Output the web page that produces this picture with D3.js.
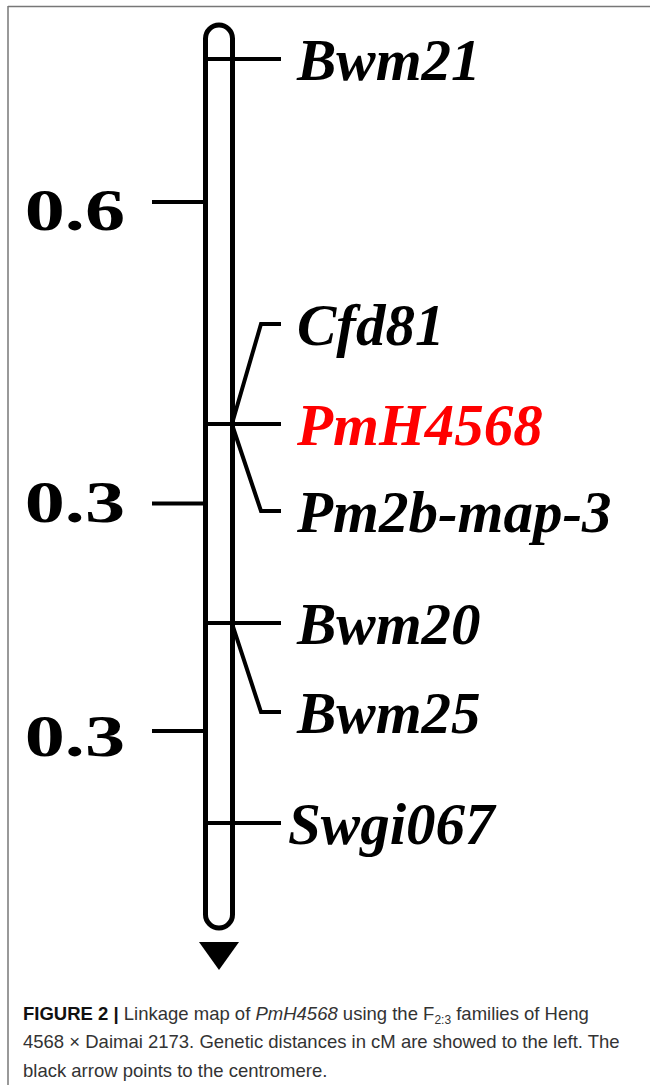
<!DOCTYPE html>
<html>
<head>
<meta charset="utf-8">
<script src="https://cdn.jsdelivr.net/npm/d3@7"></script>
<style>
  html, body { margin: 0; padding: 0; background: #fff; }
  svg { display: block; }
</style>
</head>
<body>
<svg id="map_svg"></svg>
<script>
(function() {
    'use strict';

    var width = 650,
        height = 1085;

    // marker names and their map positions (cM from Bwm21)
    var markers = ["Bwm21", "Cfd81", "PmH4568", "Pm2b-map-3", "Bwm20", "Bwm25", "Swgi067"];
    var markerPos = [0, 0.6, 0.6, 0.6, 0.9, 0.9, 1.2];
    var targetGene = "PmH4568";

    // genetic distances shown at the left, and where each label sits (cM)
    var distances = ["0.6", "0.3", "0.3"];
    var distancePos = [0.235, 0.72, 1.062];

    // markers drawn with a bent leader line (label moved up/down in px)
    var labelShift = {"Cfd81": -100, "Pm2b-map-3": 87, "Bwm25": 89};
    // baseline offset of each distance label below its tick
    var distTextDy = [28, 18, 25];

    var svg = d3.select("svg#map_svg")
        .attr("width", width)
        .attr("height", height);

    // frame lines (top and left)
    svg.append("line")
        .attr("x1", 8).attr("x2", width).attr("y1", 6.5).attr("y2", 6.5)
        .attr("stroke", "#777").attr("stroke-width", 1.5);
    svg.append("line")
        .attr("x1", 8).attr("x2", 8).attr("y1", 6).attr("y2", height)
        .attr("stroke", "#777").attr("stroke-width", 1.5);

    var y = d3.scaleLinear()
        .domain([0, 0.6, 0.9, 1.2])
        .range([59, 424, 623, 823]);

    var chrLeft = 205.5, chrW = 27, sw = 5;
    var chrTop = y(0) - 34, chrBottom = y(1.2) + 105;
    var chrRight = chrLeft + chrW;

    var g = svg.append("g");

    // chromosome body
    g.append("rect")
        .attr("x", chrLeft)
        .attr("y", chrTop)
        .attr("width", chrW)
        .attr("height", chrBottom - chrTop)
        .attr("rx", chrW / 2)
        .attr("ry", chrW / 2)
        .attr("fill", "none")
        .attr("stroke", "#000")
        .attr("stroke-width", sw);

    // centromere arrow
    var cx = chrLeft + chrW / 2;
    g.append("path")
        .attr("d", d3.line()([[cx - 20, chrBottom + 14], [cx + 20, chrBottom + 14], [cx, chrBottom + 42]]) + "Z")
        .attr("fill", "#000");

    // distance ticks on the left
    var dist = g.selectAll(".dist")
        .data(distances)
        .enter().append("g")
        .attr("class", "dist")
        .attr("transform", function(d, i) { return "translate(0," + y(distancePos[i]) + ")"; });
    dist.append("line")
        .attr("x1", 152).attr("x2", chrLeft - 1)
        .attr("stroke", "#000").attr("stroke-width", 4);
    dist.append("text")
        .attr("transform", function(d, i) { return "translate(125," + distTextDy[i] + ") scale(1.36,1)"; })
        .attr("text-anchor", "end")
        .style("font-family", "'Liberation Serif', 'Times New Roman', serif")
        .style("font-weight", "bold")
        .style("font-size", "59px")
        .text(function(d) { return d; });

    // marker ticks, leaders and labels
    var mk = g.selectAll(".marker")
        .data(markers)
        .enter().append("g")
        .attr("class", "marker");

    mk.each(function(name, i) {
        var sel = d3.select(this),
            my = y(markerPos[i]),
            shift = labelShift[name];
        if (shift === undefined) {
            sel.append("line")
                .attr("x1", chrLeft + 2).attr("x2", 281)
                .attr("y1", my).attr("y2", my)
                .attr("stroke", "#000").attr("stroke-width", 4);
        } else {
            var ly = my + shift;
            sel.append("path")
                .attr("d", d3.line()([[chrRight, my + (shift < 0 ? -2 : 2)], [261, ly], [281, ly]]))
                .attr("fill", "none")
                .attr("stroke", "#000").attr("stroke-width", 4);
        }
        sel.append("text")
            .attr("x", name === "Swgi067" ? 288 : 297)
            .attr("y", my + (shift || 0) + 21)
            .attr("fill", name === targetGene ? "#ff0000" : "#000")
            .style("font-family", "'Liberation Serif', 'Times New Roman', serif")
            .style("font-weight", "bold")
            .style("font-style", "italic")
            .style("font-size", "59px")
            .text(name);
    });

    // caption
    var cap = svg.append("text")
        .attr("x", 23)
        .attr("y", 1020)
        .attr("fill", "#333")
        .style("font-family", "'Liberation Sans', Arial, sans-serif")
        .style("font-size", "18.5px");
    cap.append("tspan").attr("font-weight", "bold").attr("fill", "#111").text("FIGURE 2 | ");
    cap.append("tspan").text("Linkage map of ");
    cap.append("tspan").attr("font-style", "italic").text("PmH4568");
    cap.append("tspan").text(" using the F");
    cap.append("tspan").attr("font-size", "12px").attr("dy", 4).text("2:3");
    cap.append("tspan").attr("dy", -4).text(" families of Heng");

    svg.append("text")
        .attr("x", 23).attr("y", 1048)
        .attr("fill", "#333")
        .style("font-family", "'Liberation Sans', Arial, sans-serif")
        .style("font-size", "18.5px")
        .text("4568 \u00d7 Daimai 2173. Genetic distances in cM are showed to the left. The");
    svg.append("text")
        .attr("x", 23).attr("y", 1077)
        .attr("fill", "#333")
        .style("font-family", "'Liberation Sans', Arial, sans-serif")
        .style("font-size", "18.5px")
        .text("black arrow points to the centromere.");
})();
</script>
</body>
</html>
